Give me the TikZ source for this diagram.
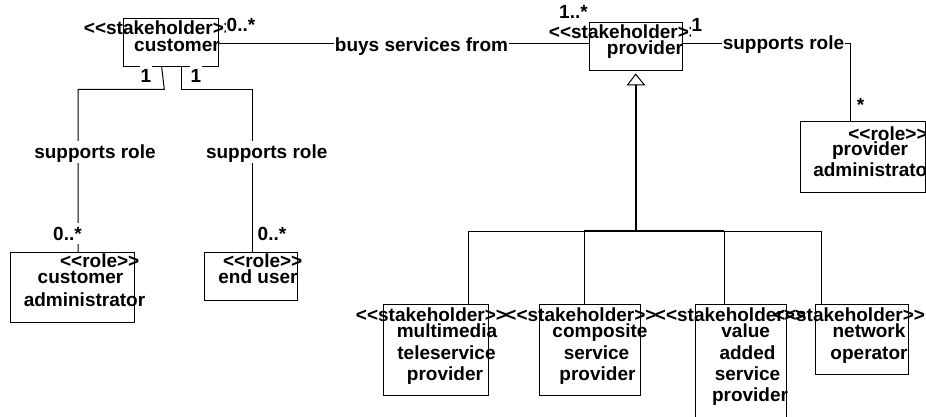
\documentclass[tikz,border=0pt]{standalone}
\usepackage{fontspec}
\newfontfamily\uml{Liberation Sans}
\begin{document}
\begin{tikzpicture}[x=1pt,y=-1pt,
  box/.style={draw, line width=1pt, inner sep=0pt, rectangle},
  txt/.style={inner sep=0pt, anchor=base, font=\uml\bfseries\fontsize{19}{22}\selectfont},
  lbl/.style={txt, fill=white, inner xsep=1pt, text height=17pt, text depth=4pt},
  ln/.style={line width=1pt},
  thk/.style={line width=2pt}]
\useasboundingbox (0,0) rectangle (926,417);
\clip (0,0) rectangle (926,417);

% boxes
\node[box, minimum width=95pt, minimum height=47.7pt] (cust) at (170.5,42.85) {};
\node[box, minimum width=93.3pt, minimum height=48.3pt] (prov) at (635.65,46.85) {};
\node[box, minimum width=125pt, minimum height=71pt] (padmin) at (862.5,157.2) {};
\node[box, minimum width=124pt, minimum height=69.6pt] (custadmin) at (72,287.5) {};
\node[box, minimum width=93.4pt, minimum height=48pt] (enduser) at (251,276.7) {};
\node[box, minimum width=105.4pt, minimum height=91.4pt] (mm) at (436,350) {};
\node[box, minimum width=101.7pt, minimum height=91.4pt] (comp) at (589.85,350) {};
\node[box, minimum width=91.7pt, minimum height=125.7pt] (vas) at (740.85,367.15) {};
\node[box, minimum width=93pt, minimum height=69.7pt] (net) at (861.8,339.15) {};

% connectors
\draw[ln] ([yshift=-1.15pt]cust.east) -- ([yshift=2.85pt]prov.west);
\draw[ln] ([xshift=-8.8pt]cust.south) -- (164.3,89.3) -- (78,89.3) -- ([xshift=6pt]custadmin.north);
\draw[ln] ([xshift=11.2pt]cust.south) -- (181.7,89.3) -- (252.7,89.3) -- ([xshift=1.7pt]enduser.north);
\draw[ln] ([yshift=3.55pt]prov.east) -- (850,43.3) -- ([xshift=-12.5pt]padmin.north);

% generalization
\coordinate (gtip) at ([yshift=-2.8pt]prov.south);
\coordinate (gbase) at (636,85);
\coordinate (j1) at (468,231);
\coordinate (j2) at (584.3,231);
\coordinate (j3) at (636,231);
\coordinate (j4) at (724.3,231);
\coordinate (j5) at (821.7,231);
\draw[thk] (gbase) -- (j3);
\draw[ln] (j1) -- (j2);
\draw[thk] (j2) -- (j4);
\draw[ln] (j4) -- (j5);
\draw[ln] (j1) -- (j1 |- mm.north);
\draw[ln] (j2) -- (j2 |- comp.north);
\draw[ln] (j4) -- (j4 |- vas.north);
\draw[ln] (j5) -- (j5 |- net.north);
\draw[ln, fill=white] (gtip) -- (627.5,85) -- (644.5,85) -- cycle;

% box texts
\node[txt] (custst) at (159.5,35) {<<stakeholder>>};
\node[txt] (custnm) at (177,52) {customer};
\node[txt] (provst) at (624.5,39) {<<stakeholder>>};
\node[txt] (provnm) at (645,54.5) {provider};
\node[txt] (parole) at (888,140) {<<role>>};
\node[txt] (panm1) at (870,155) {provider};
\node[txt] (panm2) at (874,176.7) {administrator};
\node[txt] (carole) at (99.7,267.5) {<<role>>};
\node[txt] (canm1) at (80.5,283.5) {customer};
\node[txt] (canm2) at (84.5,306) {administrator};
\node[txt] (eurole) at (262.7,267.5) {<<role>>};
\node[txt] (eunm) at (258,283.5) {end user};
\node[txt] (mmst) at (431.5,321.7) {<<stakeholder>>};
\node[txt] (mm1) at (447,337.7) {multimedia};
\node[txt] (mm2) at (446.5,359) {teleservice};
\node[txt] (mm3) at (445,380) {provider};
\node[txt] (compst) at (581,321.7) {<<stakeholder>>};
\node[txt] (comp1) at (600,337.7) {composite};
\node[txt] (comp2) at (596.5,359) {service};
\node[txt] (comp3) at (597.5,380) {provider};
\node[txt] (vasst) at (730.5,321.7) {<<stakeholder>>};
\node[txt] (vas1) at (745.7,337.7) {value};
\node[txt] (vas2) at (747.5,359) {added};
\node[txt] (vas3) at (747.5,380) {service};
\node[txt] (vas4) at (750,401) {provider};
\node[txt] (netst) at (849.5,321.7) {<<stakeholder>>};
\node[txt] (net1) at (869,337.7) {network};
\node[txt] (net2) at (869,359) {operator};

% connector labels
\node[lbl] (custm) at (241,32) {0..*};
\node[lbl] (c1a) at (146,83) {1};
\node[lbl] (c1b) at (196,83) {1};
\node[lbl] (buys) at (421.5,52) {buys services from};
\node[lbl] (pm1) at (573.5,19) {1..*};
\node[lbl] (pm2) at (697,31.7) {1};
\node[lbl] (sr1) at (783.5,49.5) {supports role};
\node[lbl] (star) at (860.5,111.6) {*};
\node[lbl] (sr2) at (95,158.5) {supports role};
\node[lbl] (sr3) at (266.7,158.5) {supports role};
\node[lbl] (m1) at (67.5,240) {0..*};
\node[lbl] (m2) at (272,240) {0..*};
\end{tikzpicture}
\end{document}
